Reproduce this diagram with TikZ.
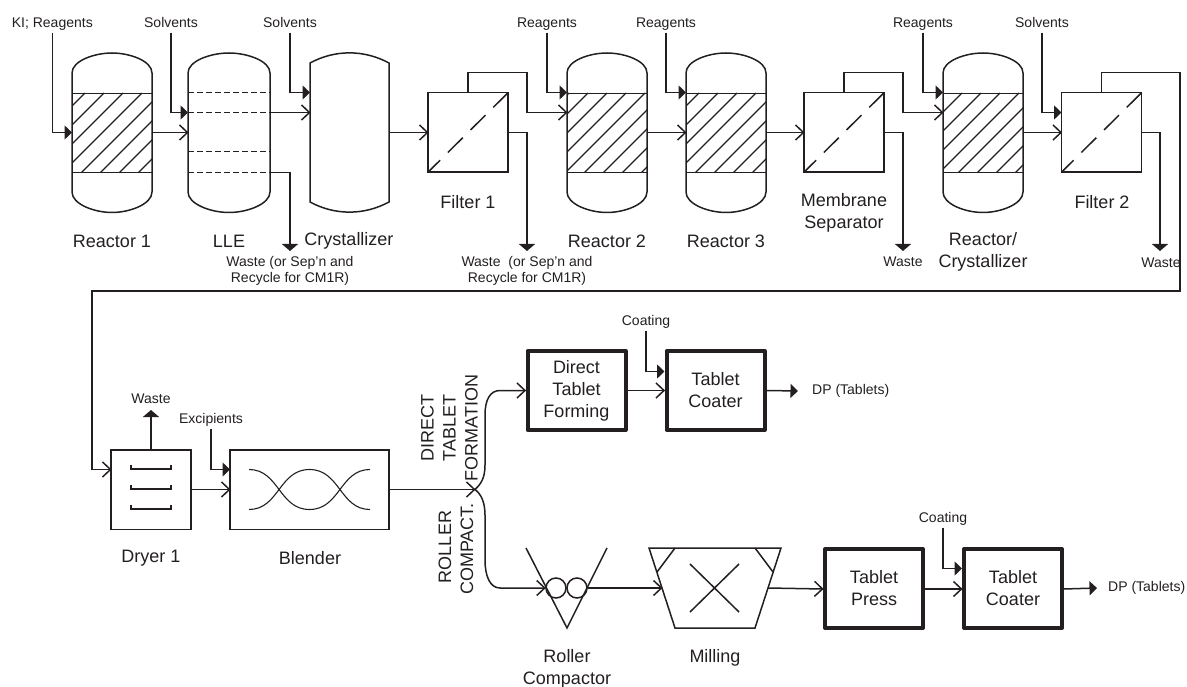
\documentclass[tikz,border=0pt]{standalone}
\usepackage{fontspec}
\setmainfont{Liberation Sans}
\usetikzlibrary{arrows.meta,calc}
\definecolor{ink}{HTML}{231F20}
\pgfdeclarearrow{
  name=Chev,
  setup code={%
    \pgfarrowssettipend{0.5pt}%
    \pgfarrowssetlineend{-0.5pt}%
    \pgfarrowssetvisualbackend{-8pt}%
    \pgfarrowsupperhullpoint{-8pt}{7.5pt}%
    \pgfarrowsupperhullpoint{0.5pt}{0pt}%
  },
  drawing code={%
    \pgfsetdash{}{+0pt}%
    \pgfpathmoveto{\pgfpoint{-8pt}{7.5pt}}%
    \pgfpathlineto{\pgfpoint{0pt}{0pt}}%
    \pgfpathlineto{\pgfpoint{-8pt}{-7.5pt}}%
    \pgfusepathqstroke
  }
}
\tikzset{
  line/.style={draw=ink,line width=1.5pt,line join=miter},
  flow/.style={line,-Chev},
  feed/.style={line,-{Triangle[length=7.5pt,width=14pt,fill=ink]}},
  drop/.style={line,-{Triangle[length=7pt,width=16pt,fill=ink]}},
  hatchline/.style={draw=ink,line width=1.1pt},
  phase/.style={draw=ink,line width=1pt,dash pattern=on 6pt off 3pt},
  unit/.style={draw=ink,line width=1.5pt,inner sep=0,outer sep=0,minimum width=80pt,minimum height=79.5pt},
  ghost/.style={inner sep=0,outer sep=0,minimum width=#1,minimum height=159pt},
  big/.style={text=ink,inner sep=0,font=\fontsize{18}{22}\selectfont,align=center},
  small/.style={text=ink,inner sep=2pt,text height=10pt,text depth=3pt,font=\fontsize{14}{16}\selectfont},
  note/.style={text=ink,inner sep=0,font=\fontsize{14}{16}\selectfont,align=center},
  heavy/.style={draw=ink,line width=4pt,line join=round,inner sep=0,outer sep=2pt,minimum width=98pt,minimum height=79pt,big},
}
% name, centre x, half width
\newcommand{\domedvessel}[3]{%
  \node[ghost=#3*2pt] (#1) at (#2,132.5) {};
  \draw[line] ({#2-#3},73) -- ({#2-#3},192)
    .. controls ({#2-#3},204) and ({#2-0.45*#3},212.5) .. (#2,212.5)
    .. controls ({#2+0.45*#3},212.5) and ({#2+#3},204) .. ({#2+#3},192)
    -- ({#2+#3},73)
    .. controls ({#2+#3},61) and ({#2+0.45*#3},53) .. (#2,53)
    .. controls ({#2-0.45*#3},53) and ({#2-#3},61) .. ({#2-#3},73) -- cycle;
}
% name, centre x, hatch phase
\newcommand{\hatchedreactor}[3]{%
  \domedvessel{#1}{#2}{40}
  \begin{scope}
    \clip ({#2-40},93) rectangle ({#2+40},172.5);
    \foreach \k in {-1,...,9}
      \draw[hatchline] ({#2-40+#3+19*\k},93) -- ++(-100,100);
  \end{scope}
  \draw[line] ({#2-40},93.3) -- ({#2+40},93.3);
  \draw[line] ({#2-40},172.3) -- ({#2+40},172.3);
}
% name, centre x
\newcommand{\filterunit}[2]{%
  \node[unit] (#1) at (#2,132.5) {};
  \draw[hatchline,line width=1.5pt,dash pattern=on 21pt off 11pt,dash phase=4pt] (#1.south west) -- (#1.north east);
}
\begin{document}
\begin{tikzpicture}[x=1pt,y=-1pt]
\useasboundingbox (0,0) rectangle (1187,687);

% ---- top row equipment
\hatchedreactor{r1}{112}{13}
\domedvessel{lle}{229}{41}
\foreach \yy in {93,113,152,172.5}
  \draw[phase] (188,\yy) -- (270,\yy);
\node[ghost=79pt] (cr) at (349.5,132.5) {};
\draw[line] (310,63) .. controls (335,49.5) and (364,49.5) .. (389,63)
  -- (389,202) .. controls (364,215.5) and (335,215.5) .. (310,202) -- cycle;
\filterunit{f1}{468}
\hatchedreactor{r2}{607}{21}
\hatchedreactor{r3}{726}{13}
\filterunit{ms}{844}
\hatchedreactor{rc}{983}{19}
\filterunit{f2}{1101.5}

% ---- top row labels
\node[small] (lkI) at (52.3,24) {KI; Reagents};
\node[small] (ls1) at (171,24) {Solvents};
\node[small] (ls2) at (290,24) {Solvents};
\node[small] (lr2) at (547,24) {Reagents};
\node[small] (lr3) at (666,24) {Reagents};
\node[small] (lrc) at (923,24) {Reagents};
\node[small] (ls3) at (1042,24) {Solvents};
\node[big] (tr1) at (112,241) {Reactor 1};
\node[big] (tlle) at (229,241) {LLE};
\node[big] (tcr) at (349,241) {Crystallizer};
\node[big] (tf1) at (468,202) {Filter 1};
\node[big] (tr2) at (607,241) {Reactor 2};
\node[big] (tr3) at (726,241) {Reactor 3};
\node[big] (tms) at (844,213) {Membrane\\Separator};
\node[big] (trc) at (983,252) {Reactor/\\Crystallizer};
\node[big] (tf2) at (1102,202) {Filter 2};
\node[note] (w1) at (290,271) {Waste (or Sep’n and\\Recycle for CM1R)};
\node[note] (w2) at (527,271) {Waste~ (or Sep’n and\\Recycle for CM1R)};
\node[note] (w3) at (903,262) {Waste};
\node[note] (w4) at (1161,263) {Waste};

% ---- free ends
\coordinate (e1) at (290,251);
\coordinate (e2) at (527,251);
\coordinate (e3) at (903,251);
\coordinate (e4) at (1160,251);
\coordinate (ret1) at (1180,291);
\coordinate (ret2) at (92,291);

% ---- top row connectors
\draw[feed] (lkI.south) |- (r1.west);
\draw[flow] (r1.east) -- (lle.west);
\draw[feed] (ls1.south) |- ([yshift=20pt]lle.west);
\draw[flow] ([yshift=20pt]lle.east) -- ([yshift=20pt]cr.west);
\draw[feed] (ls2.south) |- ([yshift=40pt]cr.west);
\draw[drop] ([yshift=-40pt]lle.east) -| (e1);
\draw[flow] (cr.east) -- (f1.west);
\draw[flow] (f1.north) -- ++(0,-20) -- ++(59,0) |- ([yshift=20pt]r2.west);
\draw[drop] (f1.east) -| (e2);
\draw[feed] (lr2.south) |- ([yshift=40pt]r2.west);
\draw[flow] (r2.east) -- (r3.west);
\draw[feed] (lr3.south) |- ([yshift=40pt]r3.west);
\draw[flow] (r3.east) -- (ms.west);
\draw[flow] (ms.north) -- ++(0,-20) -- ++(59,0) |- ([yshift=20pt]rc.west);
\draw[drop] (ms.east) -| (e3);
\draw[feed] (lrc.south) |- ([yshift=40pt]rc.west);
\draw[flow] (rc.east) -- (f2.west);
\draw[feed] (ls3.south) |- ([yshift=20pt]f2.west);
\draw[drop] (f2.east) -| (e4);

% ---- dryer and blender
\node[unit] (dr) at (151,489.5) {};
\node[unit,minimum width=159pt] (bl) at (309.5,489.5) {};
\foreach \yy in {469,489,509}
  \draw[hatchline] (131,\yy-4) -- (131,\yy) -- (171,\yy) -- (171,\yy-4);
\draw[hatchline] (249,469.5) .. controls (279,469.5) and (279,509.5) .. (309.5,509.5)
  .. controls (340,509.5) and (340,469.5) .. (370,469.5);
\draw[hatchline] (249,509.5) .. controls (279,509.5) and (279,469.5) .. (309.5,469.5)
  .. controls (340,469.5) and (340,509.5) .. (370,509.5);
\node[note] (lw) at (151,399) {Waste};
\node[small] (lex) at (211,420) {Excipients};
\node[big] (tdr) at (151,558) {Dryer 1};
\node[big] (tbl) at (310,558) {Blender};
\coordinate (e5) at (151,410);
\draw[flow] (f2.north) -- ++(0,-20) -| (ret1) -- (ret2) |- ([yshift=20pt]dr.west);
\draw[drop] (dr.north) -- (e5);
\draw[feed] (lex.south) |- ([yshift=20pt]bl.west);
\draw[flow] (dr.east) -- (bl.west);

% ---- split
\coordinate (sp) at (475,489.5);
\node[big,rotate=90] (tdi) at (427.5,428) {DIRECT};
\node[big,rotate=90] (tta) at (449.5,428) {TABLET};
\node[big,rotate=90] (tfo) at (471.5,428) {FORMATION};
\node[big,rotate=90] (tro) at (445,547) {ROLLER};
\node[big,rotate=90] (tco) at (467,549) {COMPACT.};
\draw[flow] (bl.east) -- (sp);

% ---- direct tablet line
\node[heavy] (dt) at (576.5,390.5) {Direct\\Tablet\\Forming};
\node[heavy] (tc1) at (715.5,390.5) {Tablet\\Coater};
\node[small] (lc1) at (646,322) {Coating};
\node[small,anchor=west,inner sep=0] (dp1) at (812,391) {DP (Tablets)};
\draw[flow] (sp) .. controls (481,484) and (485,478) .. (485,465) -- (485,415)
  .. controls (485,400) and (490,390.5) .. (500,390.5) -- (dt.west);
\draw[flow] (dt.east) -- (tc1.west);
\draw[feed] (lc1.south) |- ([yshift=19pt]tc1.west);
\draw[feed] (tc1.east) -- ($(dp1.west)+(-14,0)$);

% ---- roller line
\node[circle,draw=ink,line width=1.5pt,inner sep=0,minimum size=20pt] (c1) at (556,588) {};
\node[circle,draw=ink,line width=1.5pt,inner sep=0,minimum size=20pt] (c2) at (577,588) {};
\draw[line] (526,548) -- (567,628) -- (607,548);
\draw[line] (649,548) -- (781,548) -- (755,628) -- (675,628) -- cycle;
\draw[line] (675,548) -- (657,572);
\draw[line] (755,548) -- (773,572);
\draw[line] (690,564) -- (739,612);
\draw[line] (739,564) -- (690,612);
\coordinate (mw) at (662,588);
\coordinate (me) at (768,588);
\node[heavy] (tp) at (874,588.5) {Tablet\\Press};
\node[heavy] (tc2) at (1013,588.5) {Tablet\\Coater};
\node[small] (lc2) at (943,519) {Coating};
\node[small,anchor=west,inner sep=0] (dp2) at (1108,588) {DP (Tablets)};
\node[big] (tro2) at (567,669) {Roller\\Compactor};
\node[big] (tmi) at (715,658) {Milling};
\draw[flow] (sp) .. controls (481,494) and (485,502) .. (485,515) -- (485,560)
  .. controls (485,576) and (490,588) .. (500,588) -- (c1.west);
\draw[flow] (c2.east) -- (mw);
\draw[flow] (me) -- ([yshift=-0.5pt]tp.west);
\draw[flow] ([yshift=-0.5pt]tp.east) -- ([yshift=-0.5pt]tc2.west);
\draw[feed] (lc2.south) |- ([yshift=20pt]tc2.west);
\draw[feed] ([yshift=-0.5pt]tc2.east) -- ($(dp2.west)+(-11,0)$);
\end{tikzpicture}
\end{document}
